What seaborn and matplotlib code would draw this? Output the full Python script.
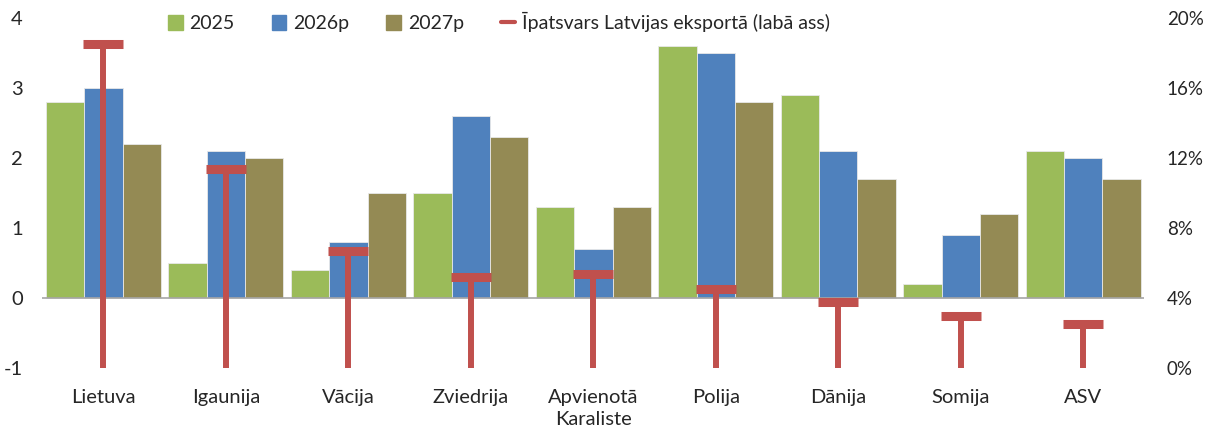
import pandas as pd
import matplotlib
matplotlib.use("Agg")
import matplotlib.pyplot as plt
import seaborn as sns
from matplotlib.lines import Line2D
from matplotlib.ticker import FuncFormatter

# Dati
valstis = ["Lietuva", "Igaunija", "Vācija", "Zviedrija", "Apvienotā\nKaraliste",
           "Polija", "Dānija", "Somija", "ASV"]
g2025 = [2.8, 0.5, 0.4, 1.5, 1.3, 3.6, 2.9, 0.2, 2.1]
g2026 = [3.0, 2.1, 0.8, 2.6, 0.7, 3.5, 2.1, 0.9, 2.0]
g2027 = [2.2, 2.0, 1.5, 2.3, 1.3, 2.8, 1.7, 1.2, 1.7]
ipatsvars = [18.5, 11.4, 6.7, 5.2, 5.4, 4.5, 3.8, 3.0, 2.5]
gadi = ["2025", "2026p", "2027p"]
krasas = ["#9BBB59", "#4F81BD", "#948A54"]

df = pd.DataFrame({"valsts": valstis * 3,
                   "gads": [g for g in gadi for _ in valstis],
                   "vertiba": g2025 + g2026 + g2027})

sns.set_style("white")
plt.rcParams["font.family"] = ["Lato", "DejaVu Sans"]
fs = 14.5

fig = plt.figure(figsize=(12.06, 4.3), dpi=100)
ax = fig.add_axes([0.035, 0.144, 0.914, 0.814])

sns.barplot(data=df, x="valsts", y="vertiba", hue="gads", hue_order=gadi,
            palette=krasas, width=0.94, gap=0, edgecolor="#E8E8E8", linewidth=0.6,
            saturation=1, ax=ax, legend=False)
ax.set_xlim(-0.5, len(valstis) - 0.5)
ax.set_ylim(-1, 4)
ax.set_yticks([-1, 0, 1, 2, 3, 4])
ax.yaxis.set_major_formatter(FuncFormatter(lambda v, p: f"{v:.0f}".replace("−", "-")))
ax.axhline(0, color="#A6A6A6", lw=1.2, zorder=3)
for s in ax.spines.values():
    s.set_visible(False)
ax.set_xlabel("")
ax.set_ylabel("")
ax.tick_params(axis="both", length=0, labelsize=fs)
ax.tick_params(axis="x", pad=15)
ax.tick_params(axis="y", pad=14)
for t in ax.get_xticklabels():
    t.set_linespacing(1.35)

# Labā ass: īpatsvars
ax2 = ax.twinx()
ax2.set_ylim(0, 20)
ax2.set_yticks([0, 4, 8, 12, 16, 20])
ax2.yaxis.set_major_formatter(FuncFormatter(lambda v, p: f"{v:.0f}%"))
ax2.tick_params(axis="y", length=0, labelsize=13.5, pad=16)
for s in ax2.spines.values():
    s.set_visible(False)
x = list(range(len(valstis)))
ax2.vlines(x, 0, ipatsvars, color="#C0504D", lw=4.3, zorder=5)
ax2.plot(x, ipatsvars, ls="none", marker="_", ms=29, mew=6.5, color="#C0504D", zorder=6)

handles = [plt.Rectangle((0, 0), 1, 1, color=c) for c in krasas]
handles.append(Line2D([0], [0], color="#C0504D", lw=3))
fig.legend(handles, gadi + ["Īpatsvars Latvijas eksportā (labā ass)"],
           loc="center left", bbox_to_anchor=(0.125, 0.948), ncol=4, frameon=False,
           fontsize=14, handlelength=0.75, handleheight=0.75, handletextpad=0.35,
           columnspacing=1.9)

fig.savefig("out.png", dpi=100)
